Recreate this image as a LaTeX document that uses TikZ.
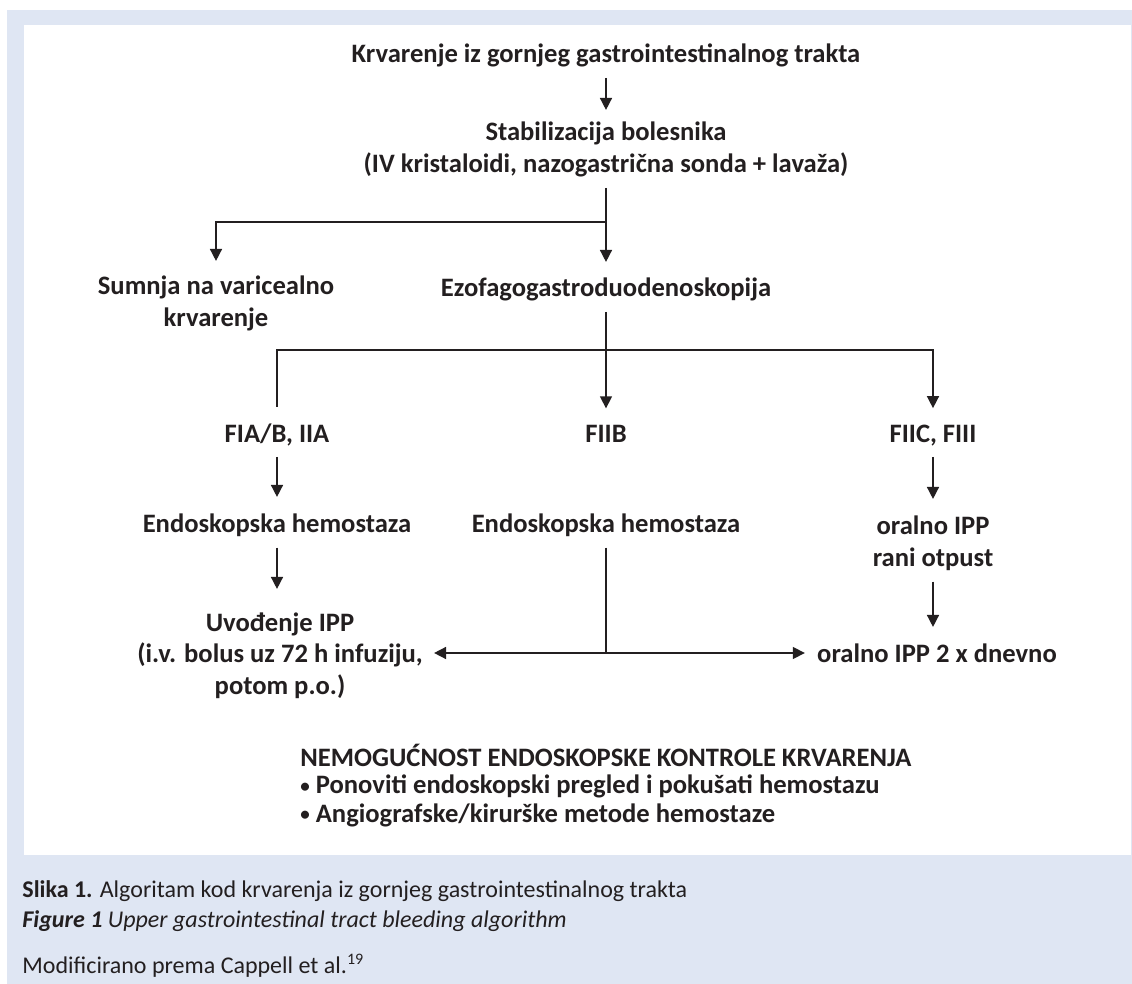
\documentclass[tikz,border=0pt]{standalone}
\usepackage{fontspec}
\setmainfont{Carlito}
\usepackage{xcolor}
\usetikzlibrary{arrows.meta,positioning,calc}

\definecolor{panelblue}{RGB}{223,230,243}
\definecolor{ink}{RGB}{35,31,32}
\newcommand{\smallbullet}{\raisebox{0.9pt}{\fontsize{9.5}{9.5}\selectfont •}}

\begin{document}
\begin{tikzpicture}[
    x=0.5pt, y=-0.5pt,
    txt/.style={inner sep=0pt, align=center, text=ink, anchor=base, font=\bfseries\fontsize{13.3}{16}\selectfont},
    captxt/.style={inner sep=0pt, align=left, text=ink, anchor=base west, font=\fontsize{12}{15}\selectfont},
    arrow/.style={-{Triangle[length=6pt,width=6pt]}, line width=0.75pt, draw=ink, shorten >=8.5pt},
    line/.style={line width=0.75pt, draw=ink},
    gap/.style={shorten <=5pt},
]
    % Panels
    \useasboundingbox (0,0) rectangle (1132,984);
    \fill[panelblue] (7,10) rectangle (1132,984);
    \fill[white] (24,25) rectangle (1131,855);

    % Top of the algorithm
    \node[txt] (start) at (606,63) {Krvarenje iz gornjeg gastrointestinalnog trakta};
    \node[txt] (stab) at (606,173) {Stabilizacija bolesnika\\(IV kristaloidi, nazogastrična sonda + lavaža)};
    \node[txt] (varic) at (216,327) {Sumnja na varicealno\\krvarenje};
    \node[txt] (egds) at (606,297) {Ezofagogastroduodenoskopija};

    \draw[arrow, gap, shorten >=6pt] (start) -- (stab);
    \coordinate (split1) at (606,222);
    \draw[line, gap] (stab) -- (split1);
    \draw[arrow, shorten >=7.5pt] (split1) -| (varic);
    \draw[arrow, shorten >=8pt] (split1) -- (egds);

    % Forrest classes
    \node[txt] (fia) at (277,443) {FIA/B, IIA};
    \node[txt] (fiib) at (606,443) {FIIB};
    \node[txt] (fiic) at (933,443) {FIIC, FIII};

    \coordinate (split2) at (606,350);
    \draw[arrow, gap] (egds) -- (fiib);
    \draw[line, shorten >=8.5pt] (split2) -| (fia);
    \draw[arrow] (split2) -| (fiic);

    % Treatment
    \node[txt] (hemA) at (277,533) {Endoskopska hemostaza};
    \node[txt] (hemB) at (606,533) {Endoskopska hemostaza};
    \node[txt] (oral) at (933,567) {oralno IPP\\rani otpust};
    \node[txt] (ipp) at (280,695) {Uvođenje IPP\\(i.v. bolus uz 72 h infuziju,\\potom p.o.)};
    \node[txt] (oral2) at (937,663) {oralno IPP 2 x dnevno};

    \draw[arrow, gap] (fia) -- (hemA);
    \draw[arrow, gap] (fiic) -- (oral);
    \draw[arrow, gap, shorten >=11.5pt] (hemA) -- (hemA |- ipp.north);
    \draw[arrow, gap] (oral) -- (oral |- oral2.north);
    \coordinate (split3) at (606,653);
    \draw[line, gap] (hemB) -- (split3);
    \draw[arrow, shorten >=5.5pt] (split3) -- (split3 -| ipp.east);
    \draw[arrow, shorten >=6pt] (split3) -- (split3 -| oral2.west);

    % Failure of endoscopic control
    \node[txt, anchor=base west, align=left, font=\bfseries\fontsize{13.3}{14}\selectfont] (fail) at (300,822)
        {NEMOGUĆNOST ENDOSKOPSKE KONTROLE KRVARENJA\\
         \smallbullet\ Ponoviti endoskopski pregled i pokušati hemostazu\\
         \smallbullet\ Angiografske/kirurške metode hemostaze};

    % Caption
    \node[captxt] (caption) at (22,928) {\textbf{Slika 1.} Algoritam kod krvarenja iz gornjeg gastrointestinalnog trakta\\
        \textbf{\textit{Figure 1}} \textit{Upper gastrointestinal tract bleeding algorithm}};
    \node[captxt] (source) at (22,973) {Modificirano prema Cappell et al.\textsuperscript{19}};
\end{tikzpicture}
\end{document}
